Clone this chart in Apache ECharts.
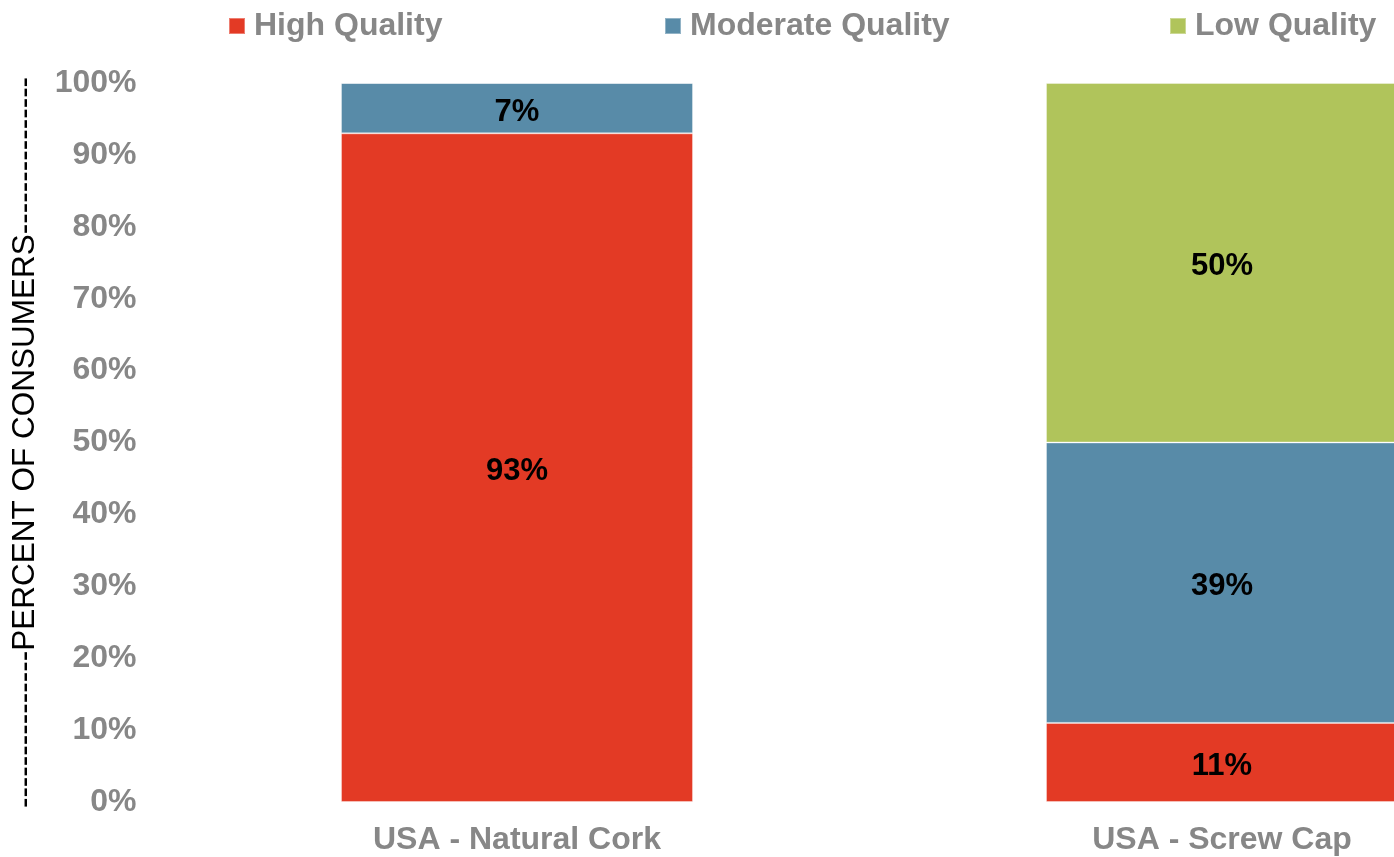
<!DOCTYPE html>
<html>
<head>
<meta charset="utf-8">
<script src="https://cdn.jsdelivr.net/npm/echarts@6/dist/echarts.min.js"></script>
<style>
html,body{margin:0;padding:0;background:#fff;}
#chart{width:1394px;height:857px;}
</style>
</head>
<body>
<div id="chart"></div>
<script>
const categories = ['USA - Natural Cork', 'USA - Screw Cap'];
const seriesNames = ['High Quality', 'Moderate Quality', 'Low Quality'];
const highQuality = [93, 11];
const moderateQuality = [7, 39];
const lowQuality = [0, 50];
const yTicks = [0, 10, 20, 30, 40, 50, 60, 70, 80, 90, 100];
const axisTitle = '---------------PERCENT OF CONSUMERS---------------';

const colors = ['#E33A25', '#588BA8', '#B0C45B'];
const gray = '#878787';
const FONT = '"Liberation Sans", Arial, sans-serif';

const chart = echarts.init(document.getElementById('chart'));

function mkSeries(name, data, color) {
  return {
    name: name,
    type: 'bar',
    stack: 'total',
    barWidth: 352,
    data: data,
    itemStyle: { color: color, borderColor: 'rgba(255,255,255,0.35)', borderWidth: 1 },
    label: {
      show: true,
      position: 'inside',
      offset: [0, 4],
      color: '#000',
      fontFamily: FONT,
      fontWeight: 'bold',
      fontSize: 31,
      formatter: p => p.value > 0 ? p.value + '%' : ''
    },
    emphasis: { disabled: true }
  };
}

function mkLegend(name, left) {
  return {
    data: [name],
    left: left,
    top: 5,
    itemWidth: 16,
    itemHeight: 16,
    icon: 'rect',
    textStyle: { color: gray, fontFamily: FONT, fontWeight: 'bold', fontSize: 32, padding: [0, 0, 0, 4] }
  };
}

chart.setOption({
  animation: false,
  backgroundColor: '#fff',
  color: colors,
  legend: [
    mkLegend(seriesNames[0], 223),
    mkLegend(seriesNames[1], 659),
    mkLegend(seriesNames[2], 1164)
  ],
  grid: { left: 164.5, width: 1410, top: 83, bottom: 55, containLabel: false, outerBoundsMode: 'none' },
  xAxis: {
    type: 'category',
    data: categories,
    axisLine: { show: false },
    axisTick: { show: false },
    axisLabel: { color: gray, fontFamily: FONT, fontWeight: 'bold', fontSize: 32, margin: 22 }
  },
  yAxis: {
    type: 'value',
    min: yTicks[0],
    max: yTicks[yTicks.length - 1],
    interval: 10,
    splitLine: { show: false },
    axisLine: { show: false },
    axisTick: { show: false },
    axisLabel: { color: gray, fontFamily: FONT, fontWeight: 'bold', fontSize: 32, margin: 28, formatter: v => v + '%' },
    name: axisTitle,
    nameLocation: 'middle',
    nameGap: 123,
    nameTextStyle: { color: '#000', fontFamily: FONT, fontSize: 31.5 }
  },
  series: [
    mkSeries(seriesNames[0], highQuality, colors[0]),
    mkSeries(seriesNames[1], moderateQuality, colors[1]),
    mkSeries(seriesNames[2], lowQuality, colors[2])
  ]
});
</script>
</body>
</html>
